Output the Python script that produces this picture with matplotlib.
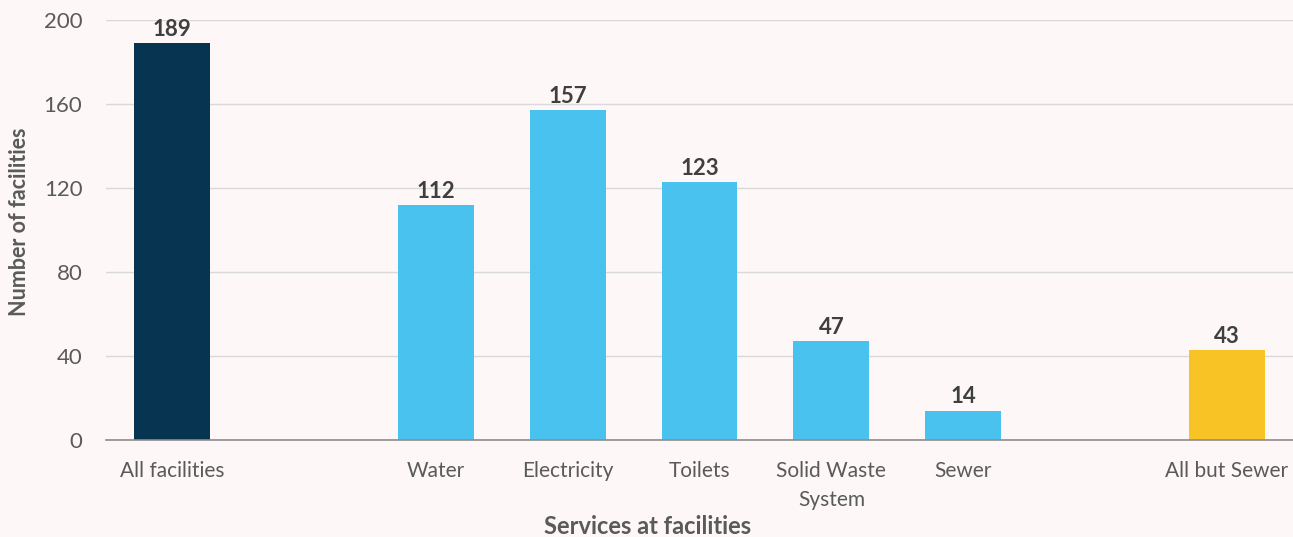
import numpy as np
import matplotlib.pyplot as plt

plt.rcParams['font.family'] = ['Lato', 'DejaVu Sans']

# Facilities offering each service (empty slots leave gaps between groups)
categories = ['All facilities', '', 'Water', 'Electricity', 'Toilets',
              'Solid Waste\nSystem', 'Sewer', '', 'All but Sewer']
counts = [189, None, 112, 157, 123, 47, 14, None, 43]
group = ['total', None, 'service', 'service', 'service', 'service', 'service', None, 'combo']

colors = {'total': '#073450', 'service': '#49C2F0', 'combo': '#F8C425'}
bg = '#FDF8F7'
text_gray = '#5A5A5A'
dark = '#3F3F3F'

fig = plt.figure(figsize=(12.93, 5.37), dpi=100, facecolor=bg)
ax = fig.add_axes([0.082, 0.1806, 0.918, 0.7822], facecolor=bg)

x = np.arange(len(categories))
for xi, val, g in zip(x, counts, group):
    if val is None:
        continue
    ax.bar(xi, val, width=0.575, color=colors[g], zorder=3)
    ax.text(xi, val + 1.5, str(val), ha='center', va='bottom',
            fontsize=16, fontweight='bold', color=dark)

ax.set_xlim(-0.5, len(categories) - 0.5)
ax.set_ylim(0, 200)
ax.set_yticks(np.arange(0, 201, 40))
ax.set_xticks(x)
ax.set_xticklabels(categories, fontsize=15, color=text_gray, linespacing=1.6)
ax.tick_params(axis='y', labelsize=16, labelcolor=text_gray, length=0, pad=17)
ax.tick_params(axis='x', length=0, pad=15)

ax.grid(axis='y', color='#D9D9D9', linewidth=1, zorder=0)
for side in ['top', 'right', 'left']:
    ax.spines[side].set_visible(False)
ax.spines['bottom'].set_color('#8C8C8C')
ax.spines['bottom'].set_linewidth(1.2)
ax.spines['bottom'].set_zorder(4)

fig.text(0.501, 0.02, 'Services at facilities', ha='center', va='center',
         fontsize=17, fontweight='bold', color=text_gray)
fig.text(0.015, 0.587, 'Number of facilities', ha='center', va='center',
         rotation=90, fontsize=15.5, fontweight='bold', color=text_gray)

fig.savefig('out.png', dpi=100, facecolor=bg)
